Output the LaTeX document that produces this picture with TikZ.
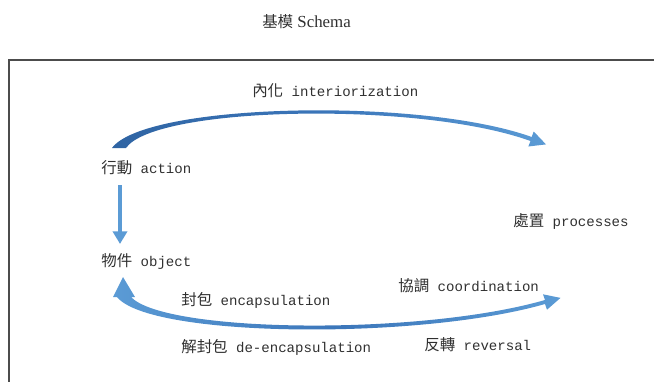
\documentclass[tikz,border=0pt]{standalone}
\usepackage{fontspec}
\setmainfont{Liberation Serif}
\setmonofont{Liberation Mono}
\newfontfamily\cjk{Noto Sans CJK TC}
\usepackage{tikz}
\usetikzlibrary{arrows.meta}
\definecolor{darkblue}{HTML}{2F64A3}
\definecolor{arcblue}{HTML}{3B76BA}
\definecolor{lightblue}{HTML}{5B9BD5}
\definecolor{txt}{HTML}{303030}
\newcommand{\zh}[1]{{\fontsize{11}{12}\cjk #1}}
\tikzset{
  lbl/.style={anchor=west,inner sep=0pt,text=txt,font=\fontsize{10}{12}\ttfamily},
  frameline/.style={line width=1.2pt,gray!60!black},
}

\begin{document}
\begin{tikzpicture}[x=0.025cm,y=-0.025cm,>=Stealth]
			\useasboundingbox (0,0) rectangle (654,382);
			\draw [frameline] (670,60) -- (9,60) -- (9,395);
			\node [anchor=west,inner sep=0pt,text=txt,font=\fontsize{12}{14}\selectfont] (title) at (262,22) {\zh{基模} Schema};
			\node [lbl] (interior) at (252,91) {\zh{內化} interiorization};
			\node [lbl] (action) at (101,168) {\zh{行動} action};
			\node [lbl] (proc) at (513,221) {\zh{處置} processes};
			\node [lbl] (object) at (101,261) {\zh{物件} object};
			\node [lbl] (encap) at (181,300) {\zh{封包} encapsulation};
			\node [lbl] (coord) at (398,286) {\zh{協調} coordination};
			\node [lbl] (deencap) at (181,347) {\zh{解封包} de-encapsulation};
			\node [lbl] (rev) at (424,345) {\zh{反轉} reversal};
			% action -> object
			\coordinate (a1) at (120,185);
			\coordinate (a2) at (120,244);
			\draw [lightblue,line width=2.8pt,-{Triangle[width=10pt,length=9pt]}] (a1) -- (a2);
			% interiorization arc
			\shade [left color=darkblue,right color=lightblue,middle color=arcblue]
				(112,148) .. controls (145,103) and (420,97) .. (531.7,137)
				-- (533.7,131.5) -- (546,144.4) -- (528.3,146.5) -- (530.5,141)
				.. controls (420,101) and (155,106) .. (126,148) -- cycle;
			% encapsulation arc
			\shade [left color=lightblue,right color=lightblue,middle color=arcblue]
				(117,297) .. controls (150,338) and (420,340) .. (545,304)
				-- (547,309.7) -- (560.5,297.9) -- (543,294.3) -- (545,300)
				.. controls (420,336) and (165,333) .. (131,297)
				-- (135,297) -- (123,277) -- (113,297) -- cycle;
		\end{tikzpicture}
\end{document}
